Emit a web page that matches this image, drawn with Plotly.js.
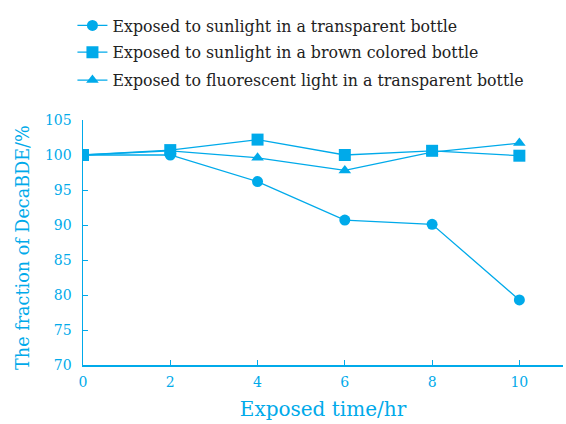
<!DOCTYPE html>
<html><head><meta charset="utf-8">
<script src="https://cdn.plot.ly/plotly-3.0.1.min.js"></script>
<style>body{margin:0;background:#fff}#c{width:566px;height:424px}</style>
</head><body><div id="c"></div>
<script>
const hours = [0, 2, 4, 6, 8, 10];
const sunTransparent = [100, 100, 96.2, 90.7, 90.1, 79.3];
const sunBrown = [100, 100.7, 102.2, 100.0, 100.6, 99.9];
const fluorTransparent = [100, 100.6, 99.6, 97.8, 100.4, 101.7];
const names = ["Exposed to sunlight in a transparent bottle", "Exposed to sunlight in a brown colored bottle", "Exposed to fluorescent light in a transparent bottle"];
const xTicks = [0, 2, 4, 6, 8, 10];
const yTicks = [70, 75, 80, 85, 90, 95, 100, 105];
const yTitle = 'The fraction of DecaBDE/%';
const C = '#00aaea';
const serif = '"DejaVu Serif", "Liberation Serif", serif';
function tr(y, name, sym, sz, lg) {
  return {x: hours, y: y, name: name, type: 'scatter', mode: 'lines+markers', legend: lg,
    line: {color: C, width: 1.3}, marker: {symbol: sym, size: sz, color: C}};
}
const data = [
  tr(sunTransparent, names[0], 'circle', 11, 'legend'),
  tr(sunBrown, names[1], 'square', 12, 'legend2'),
  tr(fluorTransparent, names[2], 'triangle-up', 11, 'legend3')
];
function lg(y) {
  return {x: -0.022, y: y, xanchor: 'left', yanchor: 'middle',
    font: {family: serif, size: 15.8, color: '#222'}, itemwidth: 30, bgcolor: 'rgba(0,0,0,0)'};
}
const layout = {
  width: 566, height: 424,
  margin: {l: 83, r: 3, t: 120, b: 59, autoexpand: false},
  paper_bgcolor: '#fff', plot_bgcolor: '#fff',
  showlegend: true,
  legend: lg(1.385), legend2: lg(1.276), legend3: lg(1.162),
  xaxis: {range: [0, 11], tickvals: xTicks, ticks: 'inside', ticklen: 5, tickcolor: C, showline: true, linecolor: C, linewidth: 1.5, showgrid: false, zeroline: false,
    tickfont: {family: serif, size: 14, color: C}, ticklabelstandoff: 4,
    title: {text: 'Exposed time/hr', font: {family: serif, size: 20, color: C}, standoff: 12}},
  yaxis: {range: [70, 105], tickvals: yTicks, ticks: 'inside', ticklen: 5, tickcolor: C, showline: true, linecolor: C, linewidth: 1.5, showgrid: false, zeroline: false,
    tickfont: {family: serif, size: 14, color: C}, ticklabelstandoff: 7},
  annotations: [{text: yTitle, textangle: -90, xref: 'paper', yref: 'paper', x: -0.125, y: 0.478,
    xanchor: 'center', yanchor: 'middle', showarrow: false, font: {family: serif, size: 17.6, color: C}}]
};
Plotly.newPlot('c', data, layout, {displayModeBar: false, staticPlot: true});
</script></body></html>
